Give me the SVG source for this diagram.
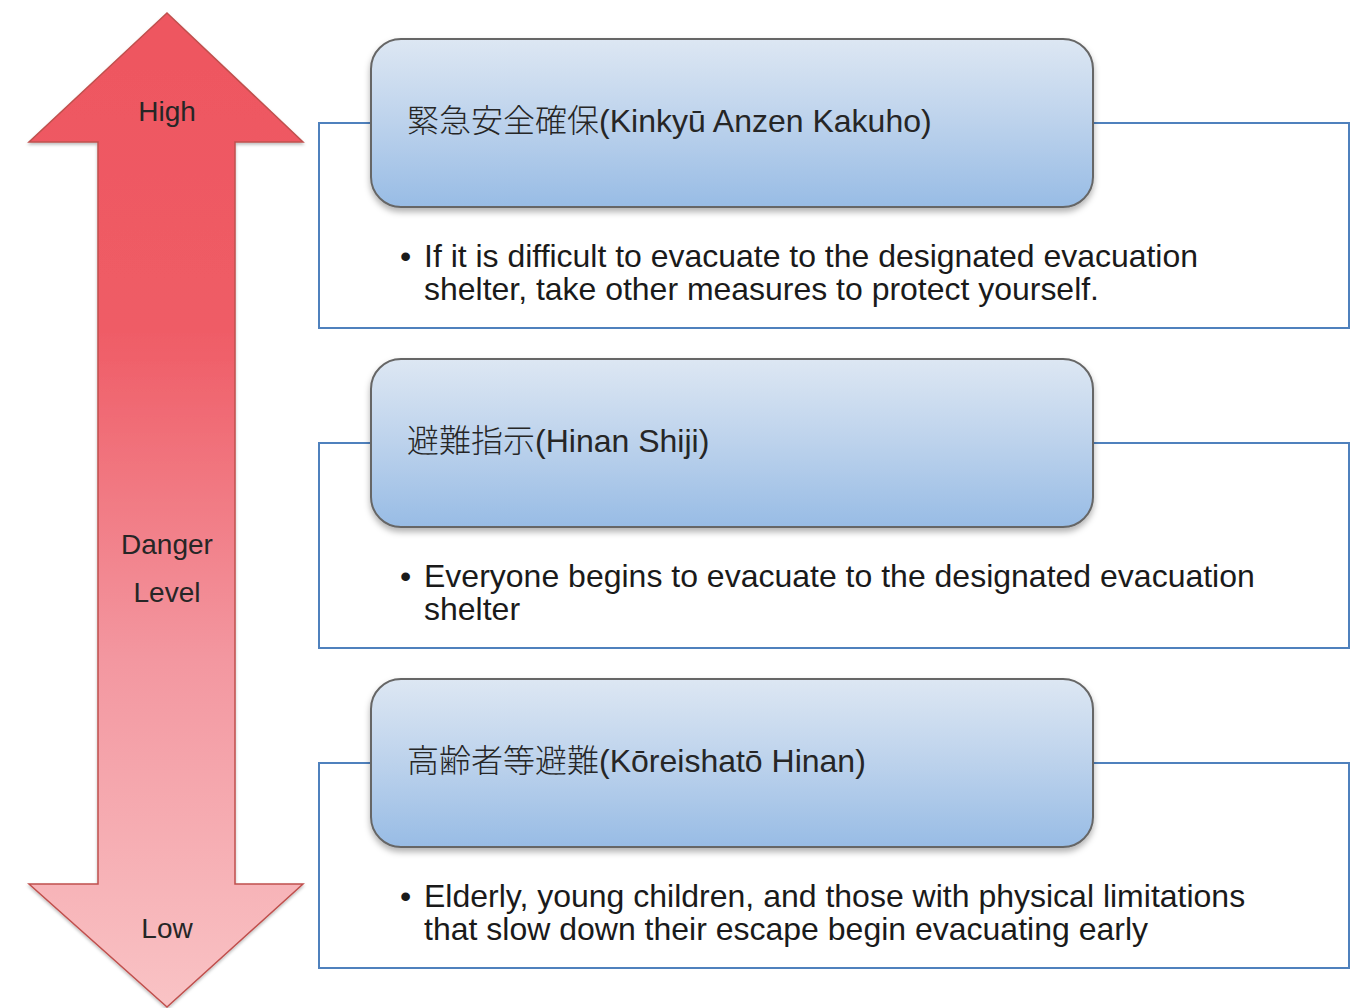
<svg xmlns="http://www.w3.org/2000/svg" width="1358" height="1008" viewBox="0 0 1358 1008">
<style>
.lbl{font-family:"Liberation Sans",Arial,"Noto Sans CJK JP",sans-serif;font-size:28px;fill:#262626;text-anchor:middle}
.hdr{font-family:"Liberation Sans",Arial,"Noto Sans CJK JP",sans-serif;font-size:32px;fill:#262626}
.jp{font-family:"Noto Sans CJK JP","Liberation Serif",serif;font-weight:300}
.body{font-family:"Liberation Sans",Arial,sans-serif;font-size:32px;fill:#1a1a1a}
.frame{fill:#fff;stroke:#4f81bd;stroke-width:2}
.hbox{fill:url(#bg);stroke:#666;stroke-width:2;filter:url(#sh)}
</style>
<defs>
<linearGradient id="rg" x1="0" y1="0" x2="0" y2="1">
<stop offset="0" stop-color="#ee5660"/>
<stop offset="0.32" stop-color="#ef5c66"/>
<stop offset="0.65" stop-color="#f397a0"/>
<stop offset="1" stop-color="#f9c3c5"/>
</linearGradient>
<linearGradient id="bg" x1="0" y1="0" x2="0" y2="1">
<stop offset="0" stop-color="#dde7f3"/>
<stop offset="0.5" stop-color="#bcd2ec"/>
<stop offset="1" stop-color="#98bce5"/>
</linearGradient>
<filter id="sh" x="-5%" y="-10%" width="110%" height="130%">
<feDropShadow dx="0" dy="4" stdDeviation="3" flood-color="#000" flood-opacity="0.3"/>
</filter>
<filter id="ash" x="-10%" y="-5%" width="120%" height="110%">
<feDropShadow dx="0" dy="2" stdDeviation="1.5" flood-color="#000" flood-opacity="0.25"/>
</filter>
</defs>
<g id="arrow">
<polygon points="167,13 303,142 235,142 235,884 303,884 167,1007 29,884 98,884 98,142 29,142" fill="url(#rg)" stroke="#c0504d" stroke-width="1.5" filter="url(#ash)"/>
<text class="lbl" x="167" y="121">High</text>
<text class="lbl" x="167" y="554">Danger</text>
<text class="lbl" x="167" y="602">Level</text>
<text class="lbl" x="167" y="938">Low</text>
</g>
<g id="level1">
<rect class="frame" x="319" y="123" width="1030" height="205"/>
<rect class="hbox" x="371" y="39" width="722" height="168" rx="30"/>
<text class="hdr" x="407" y="132"><tspan class="jp">緊急安全確保</tspan>(Kinkyū Anzen Kakuho)</text>
<text class="body" x="400" y="267">•</text>
<text class="body" x="424" y="267" textLength="774" lengthAdjust="spacingAndGlyphs">If it is difficult to evacuate to the designated evacuation</text>
<text class="body" x="424" y="300" textLength="675" lengthAdjust="spacingAndGlyphs">shelter, take other measures to protect yourself.</text>
</g>
<g id="level2">
<rect class="frame" x="319" y="443" width="1030" height="205"/>
<rect class="hbox" x="371" y="359" width="722" height="168" rx="30"/>
<text class="hdr" x="407" y="452"><tspan class="jp">避難指示</tspan>(Hinan Shiji)</text>
<text class="body" x="400" y="587">•</text>
<text class="body" x="424" y="587">Everyone begins to evacuate to the designated evacuation</text>
<text class="body" x="424" y="620">shelter</text>
</g>
<g id="level3">
<rect class="frame" x="319" y="763" width="1030" height="205"/>
<rect class="hbox" x="371" y="679" width="722" height="168" rx="30"/>
<text class="hdr" x="407" y="772"><tspan class="jp">高齢者等避難</tspan>(Kōreishatō Hinan)</text>
<text class="body" x="400" y="907">•</text>
<text class="body" x="424" y="907">Elderly, young children, and those with physical limitations</text>
<text class="body" x="424" y="940">that slow down their escape begin evacuating early</text>
</g>
</svg>
